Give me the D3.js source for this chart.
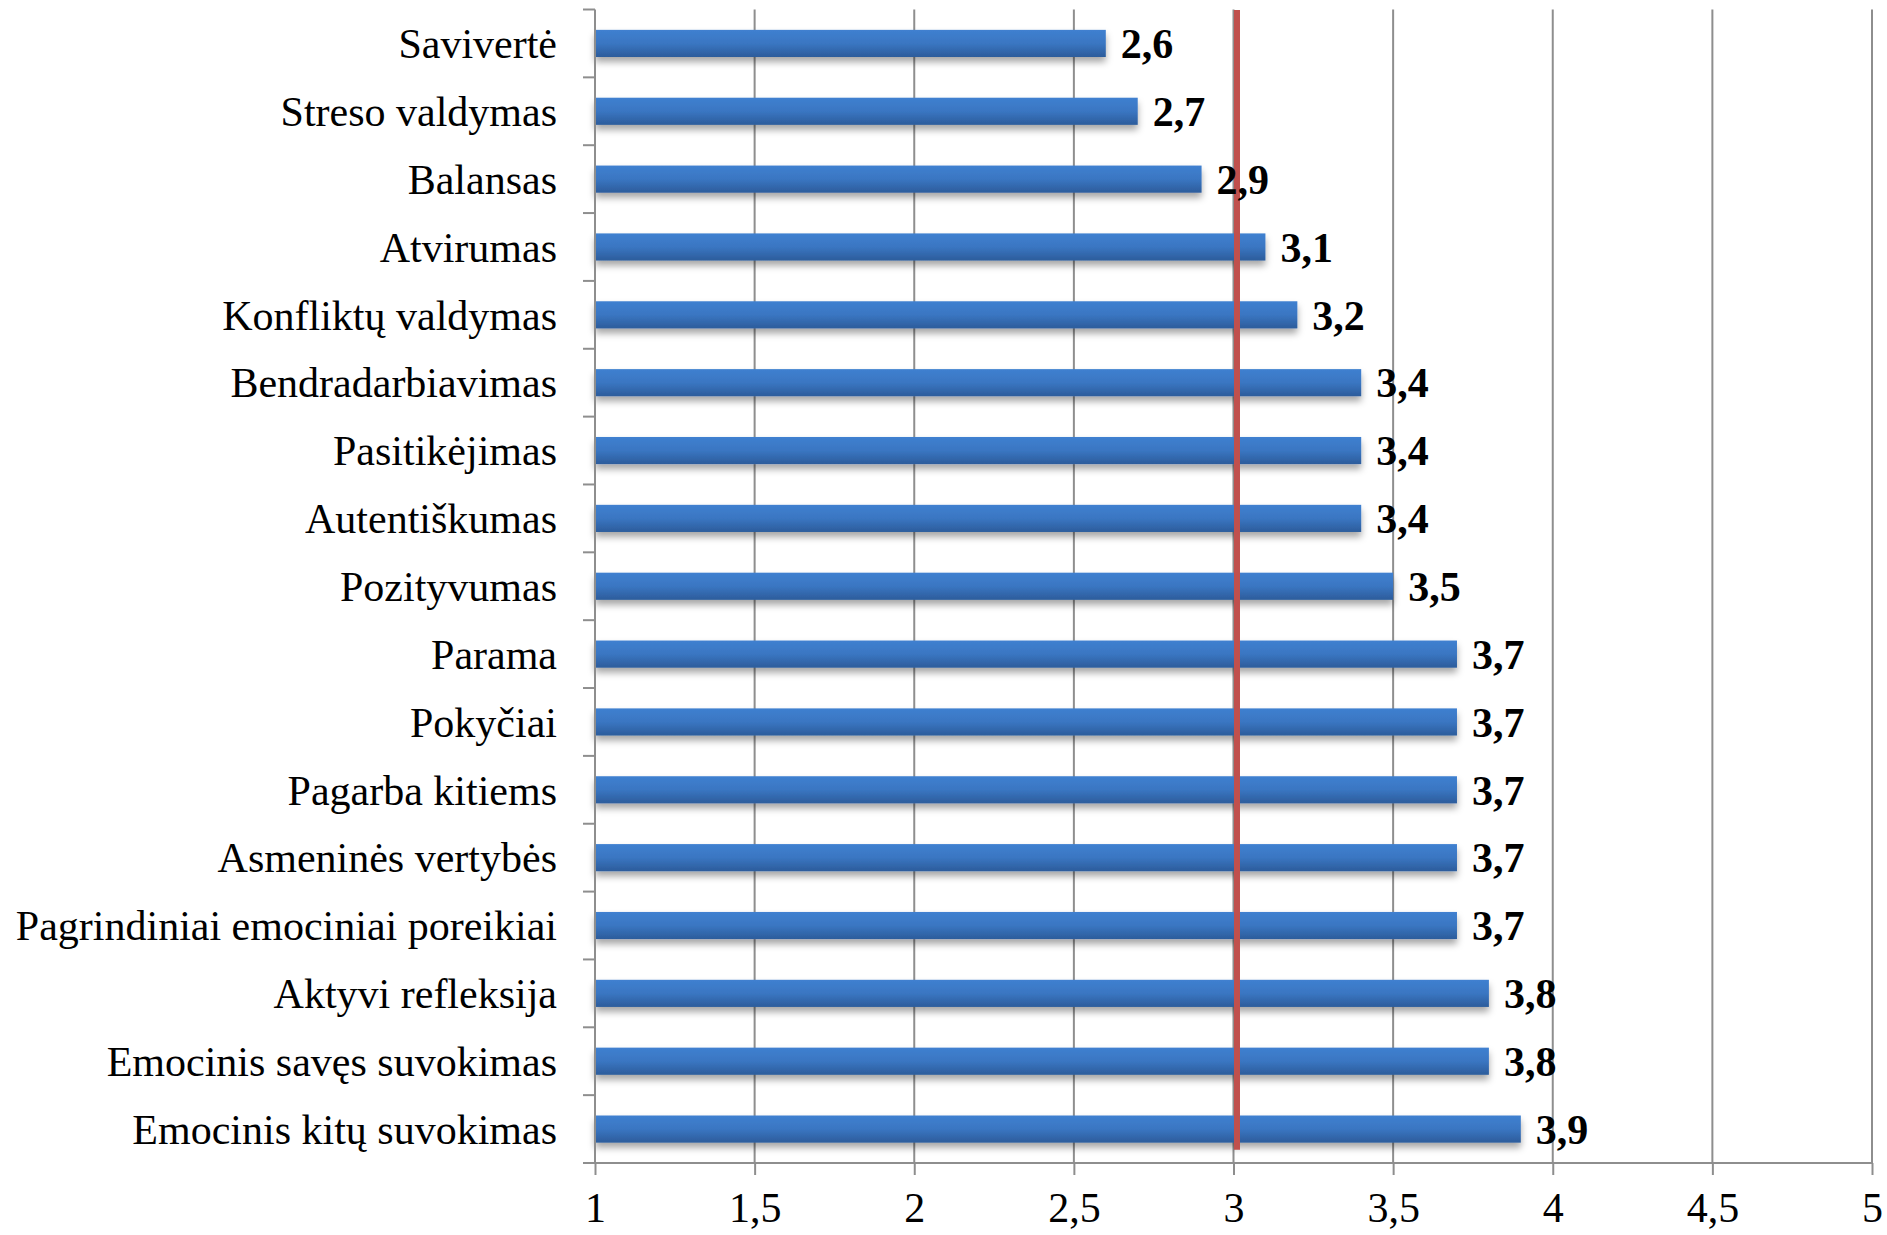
<!DOCTYPE html>
<html>
<head>
<meta charset="utf-8">
<script src="https://cdn.jsdelivr.net/npm/d3@7"></script>
<style>
    body { margin: 0; background: #fff; }
    text { font-family: "Liberation Serif", "Times New Roman", serif; fill: #000; }
</style>
</head>
<body>
<div id="chart"></div>
<script>
const categories = [
    "Savivertė", "Streso valdymas", "Balansas", "Atvirumas", "Konfliktų valdymas",
    "Bendradarbiavimas", "Pasitikėjimas", "Autentiškumas", "Pozityvumas", "Parama",
    "Pokyčiai", "Pagarba kitiems", "Asmeninės vertybės", "Pagrindiniai emociniai poreikiai",
    "Aktyvi refleksija", "Emocinis savęs suvokimas", "Emocinis kitų suvokimas"
];
const values = [2.6, 2.7, 2.9, 3.1, 3.2, 3.4, 3.4, 3.4, 3.5, 3.7, 3.7, 3.7, 3.7, 3.7, 3.8, 3.8, 3.9];
const xTicks = [1, 1.5, 2, 2.5, 3, 3.5, 4, 4.5, 5];
const referenceValue = 3;

const width = 1887;
const height = 1235;
const margin = {top: 9.5, right: 15, bottom: 72, left: 595};

const svg = d3.select("#chart")
    .append("svg")
    .attr("width", width)
    .attr("height", height);

const defs = svg.append("defs");

// bar gradient, light blue on top, darker below
const grad = defs.append("linearGradient")
    .attr("id", "barGrad")
    .attr("x1", 0).attr("y1", 0).attr("x2", 0).attr("y2", 1);
grad.append("stop").attr("offset", "0%").attr("stop-color", "#3f80d0");
grad.append("stop").attr("offset", "50%").attr("stop-color", "#3a76c2");
grad.append("stop").attr("offset", "100%").attr("stop-color", "#2c5c9b");

// soft shadow under bars
const shadow = defs.append("filter")
    .attr("id", "barShadow")
    .attr("x", "-5%").attr("y", "-20%").attr("width", "110%").attr("height", "180%");
shadow.append("feDropShadow")
    .attr("dx", 0).attr("dy", 5)
    .attr("stdDeviation", 3.5)
    .attr("flood-color", "#000")
    .attr("flood-opacity", 0.35);

const x = d3.scaleLinear()
    .domain([1, 5])
    .range([margin.left, width - margin.right]);

const y = d3.scaleBand()
    .domain(categories)
    .range([margin.top, height - margin.bottom])
    .paddingInner(0.6)
    .paddingOuter(0.3);

const plotTop = margin.top;
const plotBottom = height - margin.bottom;
const step = y.step();

// Gridlines
svg.append("g")
    .selectAll("line")
    .data(xTicks.filter(d => d > 1))
    .enter().append("line")
    .attr("x1", d => x(d)).attr("x2", d => x(d))
    .attr("y1", plotTop).attr("y2", plotBottom)
    .attr("stroke", "#8e8e8e")
    .attr("stroke-width", 2);

// Bars
svg.append("g")
    .selectAll("rect")
    .data(values)
    .enter().append("rect")
    .attr("x", x(1))
    .attr("y", (d, i) => y(categories[i]))
    .attr("width", d => x(d) - x(1))
    .attr("height", y.bandwidth())
    .attr("fill", "url(#barGrad)")
    .attr("filter", "url(#barShadow)");

// Reference line at 3
svg.append("line")
    .attr("x1", x(referenceValue) + 3.5).attr("x2", x(referenceValue) + 3.5)
    .attr("y1", plotTop + 0.5)
    .attr("y2", y(categories[categories.length - 1]) + y.bandwidth() + 7)
    .attr("stroke", "#c0504d")
    .attr("stroke-width", 6);

// X axis
const xAxis = svg.append("g")
    .attr("transform", `translate(0,${plotBottom})`)
    .call(d3.axisBottom(x)
        .tickValues(xTicks)
        .tickSize(12)
        .tickPadding(24)
        .tickFormat(d => String(d).replace(".", ",")));
xAxis.select(".domain").attr("stroke", "#8e8e8e").attr("stroke-width", 2)
    .attr("d", `M${x(1) - 12},0H${x(5)}`);
xAxis.selectAll(".tick line").attr("stroke", "#8e8e8e").attr("stroke-width", 2);
xAxis.selectAll(".tick text")
    .attr("font-size", 42)
    .attr("font-family", "Liberation Serif, serif")
    .attr("fill", "#000")
    .attr("dy", "0.55em");

// Y axis line and boundary ticks
const yAxis = svg.append("g");
yAxis.append("line")
    .attr("x1", x(1)).attr("x2", x(1))
    .attr("y1", plotTop).attr("y2", plotBottom)
    .attr("stroke", "#8e8e8e").attr("stroke-width", 2);
yAxis.selectAll(".ytick")
    .data(d3.range(categories.length + 1))
    .enter().append("line")
    .attr("class", "ytick")
    .attr("x1", x(1) - 12).attr("x2", x(1))
    .attr("y1", i => plotTop + i * step)
    .attr("y2", i => plotTop + i * step)
    .attr("stroke", "#8e8e8e").attr("stroke-width", 2);

// Category labels
svg.append("g")
    .selectAll("text")
    .data(categories)
    .enter().append("text")
    .attr("x", x(1) - 38)
    .attr("y", d => y(d) + y.bandwidth() / 2)
    .attr("dy", "0.35em")
    .attr("text-anchor", "end")
    .attr("font-size", 42)
    .text(d => d);

// Value labels
svg.append("g")
    .selectAll("text")
    .data(values)
    .enter().append("text")
    .attr("x", d => x(d) + 15)
    .attr("y", (d, i) => y(categories[i]) + y.bandwidth() / 2)
    .attr("dy", "0.35em")
    .attr("font-size", 42)
    .attr("font-weight", "bold")
    .text(d => d.toFixed(1).replace(".", ","));
</script>
</body>
</html>
